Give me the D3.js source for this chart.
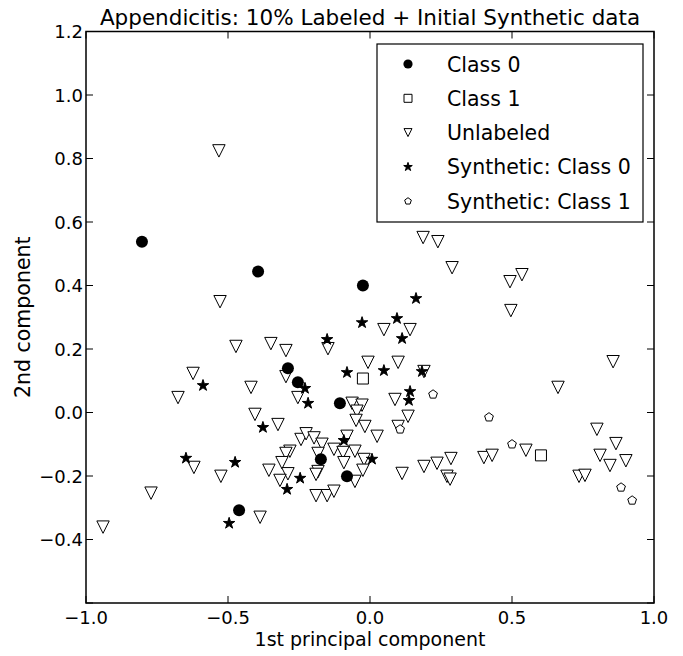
<!DOCTYPE html>
<meta charset="utf-8">
<script src="https://d3js.org/d3.v7.min.js"></script>
<style>
body { margin: 0; background: #fff; }
text { font-family: "DejaVu Sans", sans-serif; fill: #000; }
</style>
<body>
<script>

// labeled points, class 0 (filled circles)
var class0 = [
  [-0.803, 0.538], [-0.394, 0.444], [-0.025, 0.400], [-0.289, 0.139],
  [-0.254, 0.095], [-0.106, 0.029], [-0.173, -0.147], [-0.081, -0.201],
  [-0.461, -0.308]
];

// labeled points, class 1 (open squares)
var class1 = [[-0.025, 0.107], [0.602, -0.135]];

// unlabeled points (open triangles)
var unlabeled = [
  [-0.532, 0.824], [-0.528, 0.349], [0.187, 0.551], [0.239, 0.538], [0.289, 0.456],
  [0.493, 0.412], [0.535, 0.434], [0.496, 0.321], [0.049, 0.261], [0.141, 0.261],
  [-0.007, 0.158], [0.099, 0.158], [0.190, 0.129], [0.088, 0.041], [0.134, -0.012],
  [0.099, -0.044], [0.025, -0.075], [0.113, -0.192], [0.190, -0.170], [0.236, -0.160],
  [0.285, -0.145], [0.271, -0.201], [0.282, -0.210], [0.401, -0.142], [0.430, -0.135],
  [0.549, -0.119], [0.662, 0.079], [0.856, 0.160], [0.799, -0.053], [0.866, -0.098],
  [0.810, -0.135], [0.845, -0.167], [0.901, -0.152], [0.736, -0.201], [0.757, -0.198],
  [-0.472, 0.208], [-0.349, 0.217], [-0.296, 0.195], [-0.148, 0.201], [-0.623, 0.123],
  [-0.676, 0.047], [-0.419, 0.079], [-0.296, 0.113], [-0.254, 0.047], [-0.405, -0.006],
  [-0.324, -0.038], [-0.063, 0.029], [-0.028, 0.023], [-0.046, 0.004], [-0.049, -0.025],
  [-0.018, -0.044], [-0.243, -0.085], [-0.225, -0.067], [-0.197, -0.080], [-0.169, -0.100],
  [-0.127, -0.116], [-0.095, -0.126], [-0.053, -0.122], [-0.021, -0.148], [-0.025, -0.182],
  [-0.053, -0.217], [-0.183, -0.129], [-0.183, -0.186], [-0.190, -0.195], [-0.092, -0.158],
  [-0.282, -0.122], [-0.296, -0.129], [-0.310, -0.158], [-0.356, -0.182], [-0.289, -0.193],
  [-0.317, -0.214], [-0.190, -0.262], [-0.151, -0.262], [-0.127, -0.248], [-0.620, -0.173],
  [-0.525, -0.201], [-0.771, -0.254], [-0.387, -0.330], [-0.940, -0.361], [-0.081, -0.075]
];

// synthetic class 0 (stars)
var synth0 = [
  [-0.028, 0.283], [0.162, 0.359], [0.095, 0.296], [0.113, 0.233], [-0.151, 0.230],
  [-0.081, 0.126], [0.049, 0.132], [0.183, 0.129], [-0.229, 0.076], [-0.218, 0.029],
  [0.141, 0.066], [0.137, 0.038], [0.007, -0.147], [-0.588, 0.085], [-0.377, -0.047],
  [-0.092, -0.088], [-0.648, -0.144], [-0.475, -0.157], [-0.246, -0.207], [-0.292, -0.242],
  [-0.496, -0.349]
];

// synthetic class 1 (pentagons)
var synth1 = [
  [0.222, 0.057], [0.419, -0.015], [0.500, -0.100], [0.106, -0.053],
  [0.884, -0.236], [0.923, -0.277]
];

var xTicks = [-1.0, -0.5, 0.0, 0.5, 1.0];
var yTicks = [-0.4, -0.2, 0.0, 0.2, 0.4, 0.6, 0.8, 1.0, 1.2];
var legendLabels = ["Class 0", "Class 1", "Unlabeled", "Synthetic: Class 0", "Synthetic: Class 1"];

var width = 683, height = 656;
var margin = {left: 86, right: 29, top: 31.5, bottom: 53};

var x = d3.scaleLinear().domain([-1, 1]).range([margin.left, width - margin.right]);
var y = d3.scaleLinear().domain([-0.6, 1.2]).range([height - margin.bottom, margin.top]);

var svg = d3.select("body").append("svg")
    .attr("width", width)
    .attr("height", height);

// marker shapes, s = half size in px
function triDown(s) {
  return "M0," + s + "L" + (-s) + "," + (-s) + "L" + s + "," + (-s) + "Z";
}
function square(s) {
  return "M" + (-s) + "," + (-s) + "H" + s + "V" + s + "H" + (-s) + "Z";
}
function star(r) {
  var pts = [];
  for (var i = 0; i < 10; i++) {
    var a = -Math.PI / 2 + i * Math.PI / 5;
    var rr = i % 2 ? r * 0.381966 : r;
    pts.push([rr * Math.cos(a), rr * Math.sin(a)]);
  }
  return "M" + pts.join("L") + "Z";
}
function pentagon(r) {
  var pts = [];
  for (var i = 0; i < 5; i++) {
    var a = -Math.PI / 2 + i * 2 * Math.PI / 5;
    pts.push([r * Math.cos(a), r * Math.sin(a)]);
  }
  return "M" + pts.join("L") + "Z";
}

var plot = svg.append("g");

function drawPath(data, shapeFn, size, fill) {
  plot.append("g").selectAll("path")
    .data(data)
    .enter().append("path")
      .attr("transform", function(d) { return "translate(" + x(d[0]) + "," + y(d[1]) + ")"; })
      .attr("d", shapeFn(size))
      .attr("fill", fill)
      .attr("stroke", "#000")
      .attr("stroke-width", 1);
}

drawPath(unlabeled, triDown, 6.2, "#fff");

plot.append("g").selectAll("circle")
    .data(class0)
    .enter().append("circle")
      .attr("cx", function(d) { return x(d[0]); })
      .attr("cy", function(d) { return y(d[1]); })
      .attr("r", 6)
      .attr("fill", "#000");

drawPath(class1, square, 5.5, "#fff");
drawPath(synth0, star, 6, "#000");
drawPath(synth1, pentagon, 4.6, "#fff");

// frame
var x0 = x.range()[0], x1 = x.range()[1], y0 = y.range()[0], y1 = y.range()[1];
svg.append("rect")
    .attr("x", x0).attr("y", y1)
    .attr("width", x1 - x0).attr("height", y0 - y1)
    .attr("fill", "none").attr("stroke", "#000").attr("stroke-width", 1.5);

// ticks pointing inward on all four sides
var tickLen = 7;
var tg = svg.append("g").attr("stroke", "#000").attr("stroke-width", 1);
xTicks.forEach(function(t) {
  tg.append("line").attr("x1", x(t)).attr("x2", x(t)).attr("y1", y0).attr("y2", y0 - tickLen);
  tg.append("line").attr("x1", x(t)).attr("x2", x(t)).attr("y1", y1).attr("y2", y1 + tickLen);
});
yTicks.concat([-0.6]).forEach(function(t) {
  tg.append("line").attr("y1", y(t)).attr("y2", y(t)).attr("x1", x0).attr("x2", x0 + tickLen);
  tg.append("line").attr("y1", y(t)).attr("y2", y(t)).attr("x1", x1).attr("x2", x1 - tickLen);
});

var fmt = function(v) { return d3.format(".1f")(v).replace("-", "\u2212"); };

svg.append("g").selectAll("text")
    .data(xTicks)
    .enter().append("text")
      .attr("x", function(d) { return x(d); })
      .attr("y", y0 + 21)
      .attr("text-anchor", "middle")
      .attr("font-size", "18px")
      .text(fmt);

svg.append("g").selectAll("text")
    .data(yTicks)
    .enter().append("text")
      .attr("x", x0 - 3)
      .attr("y", function(d) { return y(d) + 6.5; })
      .attr("text-anchor", "end")
      .attr("font-size", "18px")
      .text(fmt);

svg.append("text")
    .attr("x", (x0 + x1) / 2)
    .attr("y", 646)
    .attr("text-anchor", "middle")
    .attr("font-size", "19px")
    .text("1st principal component");

svg.append("text")
    .attr("transform", "translate(30," + ((y0 + y1) / 2) + ") rotate(-90)")
    .attr("text-anchor", "middle")
    .attr("font-size", "20.5px")
    .text("2nd component");

svg.append("text")
    .attr("x", (x0 + x1) / 2)
    .attr("y", 25)
    .attr("text-anchor", "middle")
    .attr("font-size", "21.5px")
    .text("Appendicitis: 10% Labeled + Initial Synthetic data");

// legend
var legend = svg.append("g");
legend.append("rect")
    .attr("x", 377).attr("y", 44)
    .attr("width", 266).attr("height", 178)
    .attr("fill", "#fff").attr("stroke", "#000").attr("stroke-width", 1.2);

var legendShapes = [
  {d: null, fill: "#000"},
  {d: square(4), fill: "#fff"},
  {d: triDown(4), fill: "#fff"},
  {d: star(4.5), fill: "#000"},
  {d: pentagon(3.5), fill: "#fff"}
];

legendLabels.forEach(function(lab, i) {
  var ly = 64 + i * 34.3;
  var sh = legendShapes[i];
  if (sh.d === null) {
    legend.append("circle").attr("cx", 408).attr("cy", ly).attr("r", 4.6).attr("fill", "#000");
  } else {
    legend.append("path")
      .attr("transform", "translate(408," + ly + ")")
      .attr("d", sh.d)
      .attr("fill", sh.fill)
      .attr("stroke", "#000")
      .attr("stroke-width", 1);
  }
  legend.append("text")
      .attr("x", 447)
      .attr("y", ly + 7.5)
      .attr("font-size", "20.5px")
      .text(lab);
});

</script>
</body>
